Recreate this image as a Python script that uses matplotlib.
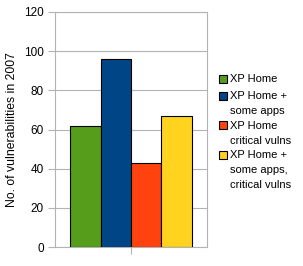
import matplotlib
matplotlib.use("Agg")
import matplotlib.pyplot as plt
from matplotlib.patches import Rectangle

labels = ["XP Home", "XP Home +\nsome apps", "XP Home\ncritical vulns", "XP Home +\nsome apps,\ncritical vulns"]
values = [62, 96, 43, 67]
colors = ["#579d1c", "#004586", "#ff420e", "#ffd320"]

plt.rcParams['font.family'] = ['Liberation Sans', 'DejaVu Sans']
W, H = 303, 266
fig = plt.figure(figsize=(W / 100, H / 100), dpi=100)
ax = fig.add_axes([55 / W, 1 - 247 / H, 152 / W, 235 / H])
positions = [-0.3, -0.1, 0.1, 0.3]
for p, v, c in zip(positions, values, colors):
    ax.bar(p, v, width=0.2, color=c, edgecolor="black", linewidth=0.8, zorder=3)
ax.set_xlim(-0.5, 0.5)
ax.set_ylim(0, 120)
ax.set_yticks(range(0, 121, 20))
ax.set_xticks([0])
ax.set_xticklabels([""])
ax.yaxis.grid(True, color="#b3b3b3", linewidth=0.8, zorder=0)
for s in ax.spines.values():
    s.set_color("#b3b3b3")
    s.set_linewidth(0.8)
ax.tick_params(axis='both', colors="#b3b3b3", labelcolor="black", labelsize=8.5, length=5, width=0.8, pad=3)
ax.set_ylabel("No. of vulnerabilities in 2007", fontsize=8.8, labelpad=4)

# manual legend (layout in pixels)
line_step = 14.8
y = 79.5
for lab, c in zip(labels, colors):
    lines = lab.split("\n")
    fig.add_artist(Rectangle((218.5 / W, 1 - (y + 3.5) / H), 8.5 / W, 8.2 / H,
                             transform=fig.transFigure, facecolor=c,
                             edgecolor="black", linewidth=0.8))
    for i, ln in enumerate(lines):
        fig.text(230 / W, 1 - (y + i * line_step) / H, ln, fontsize=8,
                 va="center", ha="left")
    y += len(lines) * line_step + (2 if lab == labels[0] else 0)
fig.savefig("out.png", dpi=100)
